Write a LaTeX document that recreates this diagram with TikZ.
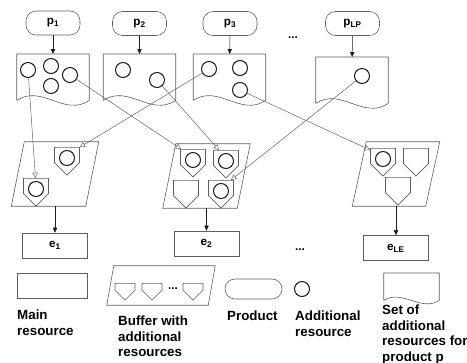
\documentclass[tikz,border=0pt]{standalone}
\usepackage{fontspec}
\setmainfont{Liberation Sans}
\usepackage{tikz}
\usetikzlibrary{positioning, calc, arrows.meta, shapes.symbols}
\definecolor{ResGray}{HTML}{5E5E5E}
\definecolor{ResInk}{HTML}{1C1C1C}

\begin{document}
\begin{tikzpicture}[x=0.03cm, y=-0.03cm, font=\bfseries\fontsize{10}{12}\selectfont,
  prod/.style={draw=ResGray, line width=0.5pt, rounded corners=0.3cm, minimum width=1.62cm, minimum height=0.72cm, inner sep=0pt},
  setbox/.style={minimum width=2.16cm, minimum height=1.38cm, anchor=north, inner sep=0pt},
  res/.style={circle, draw=ResInk, line width=0.9pt, minimum size=0.45cm, inner sep=0pt},
  slot/.style={signal, signal to=south, draw=ResGray, line width=0.5pt, minimum width=0.75cm, minimum height=0.46cm, inner sep=0pt, anchor=north},
  bufbox/.style={minimum width=2.61cm, minimum height=1.92cm, inner sep=0pt},
  mainres/.style={draw=ResGray, line width=0.5pt, minimum width=1.95cm, minimum height=0.75cm, inner sep=0pt},
  feed/.style={-{Triangle[length=1.5mm, width=1.3mm]}, ResInk, line width=0.4pt},
  pick/.style={-{Triangle[open, length=1.6mm, width=1.6mm]}, ResGray, line width=0.4pt},
  legend/.style={align=left, anchor=north west, inner sep=0pt, font=\bfseries\fontsize{11.4}{13.2}\selectfont}]
  \useasboundingbox (0,0) rectangle (467,363);

  % products
  \node[prod] (p1) at (53,23) {p\textsubscript{1}};
  \node[prod] (p2) at (139.5,23.5) {p\textsubscript{2}};
  \node[prod] (p3) at (230,23.5) {p\textsubscript{3}};
  \node[prod] (pLP) at (352.5,23.5) {p\textsubscript{LP}};
  \node (pdots) at (293,38) {...};

  % sets of additional resources
  \node[setbox] (d1) at (53,54) {};
  \node[setbox] (d2) at (139.5,54) {};
  \node[setbox] (d3) at (229.5,54) {};
  \node[setbox] (dLP) at (352,57) {};
  \node[setbox, minimum width=1.65cm, minimum height=0.81cm] (dL) at (411.5,273) {};
  \foreach \d/\w/\h in {d1/0.75/0.5, d2/0.75/0.5, d3/0.75/0.5, dLP/0.75/0.5, dL/0.55/0.35}
    \draw[ResGray, line width=0.5pt] (\d.south west) -- (\d.north west) -- (\d.north east) -- (\d.south east)
      .. controls +(-\w cm,-\h cm) and +(\w cm,\h cm) .. (\d.south west);

  \node[res] (c11) at (28,70) {};
  \node[res] (c12) at (51,66) {};
  \node[res] (c13) at (70,75) {};
  \node[res] (c14) at (51,86) {};
  \node[res] (c21) at (123,70) {};
  \node[res] (c22) at (157,80) {};
  \node[res] (c31) at (209,69) {};
  \node[res] (c32) at (240,68) {};
  \node[res] (c33) at (240,90) {};
  \node[res] (cLP) at (362,76) {};

  \draw[feed] (p1) -- (d1);
  \draw[feed] (p2) -- (d2);
  \draw[feed] (p3) -- (d3);
  \draw[feed] (pLP) -- (dLP);

  % buffers
  \node[bufbox] (b1) at (55,174) {};
  \node[bufbox] (b2) at (206.5,176) {};
  \node[bufbox] (bLE) at (396,174) {};
  \node[bufbox, minimum width=3.24cm, minimum height=1.17cm] (lbuf) at (161,285.5) {};
  \foreach \b/\s in {b1/13, b2/13, bLE/14, lbuf/7}
    \draw[ResGray, line width=0.5pt] ($(\b.north west)+(\s,0)$) -- (\b.north east)
      -- ($(\b.south east)-(\s,0)$) -- (\b.south west) -- cycle;

  \node[slot] (s11) at (67,147) {};
  \node[slot] (s12) at (36,178) {};
  \node[slot] (s21) at (193,149) {};
  \node[slot] (s22) at (226,150) {};
  \node[slot] (s23) at (186,180) {};
  \node[slot] (s24) at (221,180) {};
  \node[slot] (sE1) at (383,148) {};
  \node[slot] (sE2) at (416,148) {};
  \node[slot] (sE3) at (398,177) {};

  \node[res] (r11) at (67,158) {};
  \node[res] (r12) at (36,189) {};
  \node[res] (r21) at (193,160) {};
  \node[res] (r22) at (226,161) {};
  \node[res] (r24) at (221,191) {};
  \node[res] (rE1) at (383,159) {};

  \draw[pick] (c11) -- (s12);
  \draw[pick] (c13) -- (s21);
  \draw[pick] (c22) -- (s22);
  \draw[pick] (c31) -- (s11);
  \draw[pick] (c33) -- (sE1);
  \draw[pick] (cLP) -- (s24);

  % main resources
  \node[mainres] (e1) at (55,245.5) {e\textsubscript{1}};
  \node[mainres] (e2) at (206.5,243.5) {e\textsubscript{2}};
  \node[mainres] (eLE) at (396,248) {e\textsubscript{LE}};
  \node (edots) at (300,250) {...};
  \draw[feed] (b1) -- (e1);
  \draw[feed] (b2) -- (e2);
  \draw[feed] (bLE) -- (eLE);

  % legend
  \node[mainres, minimum width=2.1cm] (lmain) at (52,285.5) {};
  \node[slot, minimum width=0.6cm, minimum height=0.21cm] (ls1) at (125,283) {};
  \node[slot, minimum width=0.6cm, minimum height=0.21cm] (ls2) at (152,283) {};
  \node[slot, minimum width=0.6cm, minimum height=0.21cm] (ls3) at (193,283) {};
  \node (ldots) at (173,289) {...};
  \node[prod, minimum width=1.71cm, minimum height=0.6cm] (lprod) at (253.5,289) {};
  \node[res] (lres) at (302,289) {};

  \node[legend] (tmain) at (17,310) {Main\\resource};
  \node[legend] (tbuf) at (118,316) {Buffer with\\additional\\resources};
  \node[legend] (tprod) at (227,311) {Product};
  \node[legend] (tres) at (295,311) {Additional\\resource};
  \node[legend] (tset) at (382,305) {Set of\\additional\\resources for\\product p};
\end{tikzpicture}
\end{document}
